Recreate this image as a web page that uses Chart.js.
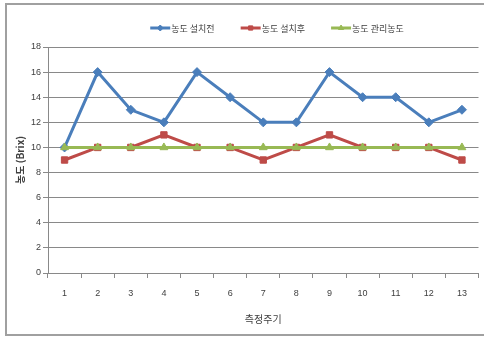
<!DOCTYPE html>
<html>
<head>
<meta charset="utf-8">
<script src="https://cdn.jsdelivr.net/npm/chart.js@4.4.1/dist/chart.umd.min.js"></script>
<style>
  html, body { margin: 0; padding: 0; background: #ffffff; }
  #wrap { width: 484px; height: 338px; position: relative; }
</style>
</head>
<body>
<div id="wrap"><canvas id="c" width="484" height="338"></canvas></div>
<script>
// Measurement cycles 1..13
const cycles = ['1','2','3','4','5','6','7','8','9','10','11','12','13'];
// Concentration (Brix) per cycle
const beforeInstall = [10, 16, 13, 12, 16, 14, 12, 12, 16, 14, 14, 12, 13];
const afterInstall  = [9, 10, 10, 11, 10, 10, 9, 10, 11, 10, 10, 10, 9];
const targetLevel   = [10, 10, 10, 10, 10, 10, 10, 10, 10, 10, 10, 10, 10];
const seriesNames = ['농도 설치전', '농도 설치후', '농도 관리농도'];
const yTicks = [0, 2, 4, 6, 8, 10, 12, 14, 16, 18];

const BLUE = '#4a7ebb', RED = '#be4b48', GREEN = '#98b954';
const GRID = '#898989';
const KR = '"Noto Sans CJK KR", "Noto Sans", sans-serif';

// Outer frame around the whole chart
const framePlugin = {
  id: 'frame',
  beforeDraw(chart) {
    const ctx = chart.ctx;
    ctx.save();
    ctx.strokeStyle = '#a0a0a0';
    ctx.lineWidth = 2;
    ctx.strokeRect(6, 4, 484, 331);
    ctx.restore();
  }
};

// Legend with a short line segment plus the series marker
const keyPlugin = {
  id: 'seriesKey',
  afterDraw(chart) {
    const ctx = chart.ctx;
    const ds = chart.data.datasets;
    const order = [0, 1, 2];
    ctx.save();
    ctx.font = '9px ' + KR;
    ctx.textBaseline = 'middle';
    const seg = 20, gap = 1, spacing = 26;
    const widths = order.map(i => seg + gap + ctx.measureText(ds[i].label).width);
    const total = widths.reduce((a, b) => a + b, 0) + spacing * (order.length - 1);
    let x = 277 - total / 2;
    const y = 28;
    order.forEach((i, k) => {
      const d = ds[i];
      ctx.strokeStyle = d.borderColor;
      ctx.fillStyle = d.borderColor;
      ctx.lineWidth = 3;
      ctx.beginPath();
      ctx.moveTo(x, y);
      ctx.lineTo(x + seg, y);
      ctx.stroke();
      ctx.lineWidth = 1;
      Chart.helpers.drawPoint(ctx, {
        pointStyle: d.pointStyle, radius: 3, rotation: 0, borderWidth: 1
      }, x + seg / 2, y);
      ctx.fillStyle = '#404040';
      ctx.fillText(d.label, x + seg + gap, y + 1);
      x += widths[k] + spacing;
    });
    ctx.restore();
  }
};

const mk = (label, data, color, style, radius, order) => ({
  label, data,
  borderColor: color, backgroundColor: color,
  pointBackgroundColor: color, pointBorderColor: color,
  pointStyle: style, pointRadius: radius, pointBorderWidth: 1,
  borderWidth: 3, tension: 0, order
});

new Chart(document.getElementById('c'), {
  type: 'line',
  data: {
    labels: cycles,
    datasets: [
      mk(seriesNames[0], beforeInstall, BLUE, 'rectRot', 4.5, 3),
      mk(seriesNames[1], afterInstall, RED, 'rect', 4.5, 2),
      mk(seriesNames[2], targetLevel, GREEN, 'triangle', 4.5, 1)
    ]
  },
  options: {
    responsive: false,
    animation: false,
    devicePixelRatio: 1,
    layout: { padding: { left: 6, right: 2, top: 47, bottom: 0 } },
    plugins: { legend: { display: false }, tooltip: { enabled: false } },
    scales: {
      x: {
        offset: true,
        grid: { display: true, drawOnChartArea: false, drawTicks: true, tickLength: 5, color: GRID, offset: true },
        border: { display: true, color: GRID, width: 1 },
        ticks: { color: '#404040', font: { family: '"Liberation Sans", sans-serif', size: 9 }, padding: 10, maxRotation: 0 },
        title: { display: true, text: '측정주기', color: '#404040', font: { family: KR, size: 10 }, padding: { top: 4, bottom: 13 } },
        afterFit(s) { s.height = 65; }
      },
      y: {
        min: 0, max: 18,
        afterBuildTicks(s) { s.ticks = yTicks.map(v => ({ value: v })); },
        grid: { color: GRID, lineWidth: 1, tickLength: 5 },
        border: { display: true, color: GRID, width: 1 },
        ticks: { color: '#404040', font: { family: '"Liberation Sans", sans-serif', size: 9 }, padding: 2 },
        title: { display: true, text: '농도 (Brix)', color: '#404040', font: { family: KR, size: 10, weight: 'bold' }, padding: { top: 8, bottom: 0 } },
        afterFit(s) { s.width = 42; }
      }
    }
  },
  plugins: [framePlugin, keyPlugin]
});
</script>
</body>
</html>
